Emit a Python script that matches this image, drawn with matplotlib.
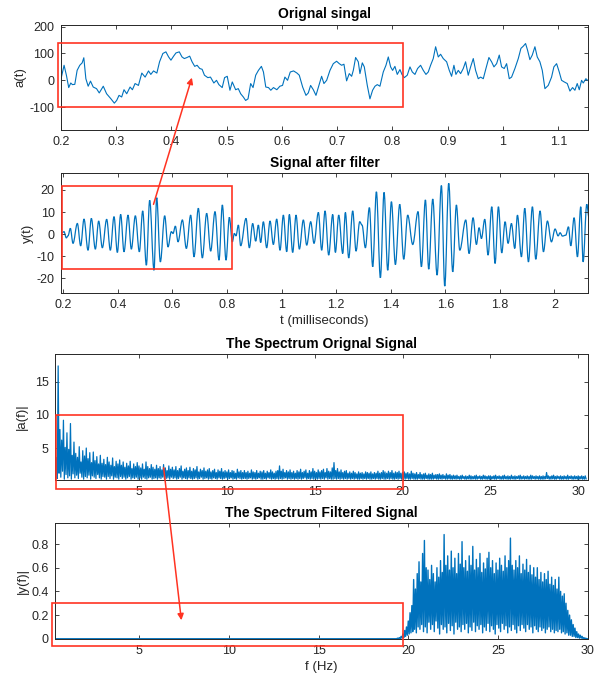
import numpy as np
import matplotlib
matplotlib.use('Agg')
import matplotlib.pyplot as plt
from matplotlib.patches import Rectangle, FancyArrowPatch, PathPatch
from matplotlib.path import Path
from matplotlib.ticker import FuncFormatter

plt.rcParams['font.family'] = ['Liberation Sans', 'DejaVu Sans']

# original signal a(t) (t in ms)
sig_t = [0.2000, 0.2061, 0.2103, 0.2145, 0.2182, 0.2212, 0.2255, 0.2297, 0.2345, 0.2388,
         0.2418, 0.2455, 0.2497, 0.2539, 0.2588, 0.2648, 0.2697, 0.2770, 0.2830, 0.2909,
         0.2970, 0.3012, 0.3055, 0.3103, 0.3145, 0.3194, 0.3255, 0.3297, 0.3345, 0.3406,
         0.3467, 0.3527, 0.3588, 0.3630, 0.3679, 0.3739, 0.3788, 0.3848, 0.3903, 0.3952,
         0.3994, 0.4042, 0.4085, 0.4145, 0.4194, 0.4236, 0.4285, 0.4333, 0.4376, 0.4424,
         0.4467, 0.4515, 0.4558, 0.4600, 0.4661, 0.4709, 0.4770, 0.4818, 0.4861, 0.4921,
         0.4964, 0.5012, 0.5061, 0.5103, 0.5164, 0.5212, 0.5255, 0.5303, 0.5345, 0.5388,
         0.5436, 0.5479, 0.5527, 0.5576, 0.5630, 0.5667, 0.5709, 0.5758, 0.5800, 0.5848,
         0.5909, 0.5964, 0.6012, 0.6055, 0.6103, 0.6152, 0.6212, 0.6273,
         0.6315, 0.6376, 0.6436, 0.6478, 0.6520, 0.6569, 0.6617, 0.6659, 0.6719, 0.6761,
         0.6810, 0.6870, 0.6930, 0.6990, 0.7039, 0.7081, 0.7123, 0.7171, 0.7219, 0.7262,
         0.7292, 0.7334, 0.7382, 0.7412, 0.7455, 0.7491, 0.7545, 0.7593, 0.7641, 0.7684,
         0.7726, 0.7774, 0.7834, 0.7883, 0.7925, 0.7967, 0.8003, 0.8045, 0.8087, 0.8136,
         0.8172, 0.8214, 0.8268, 0.8317, 0.8359, 0.8407, 0.8455, 0.8509, 0.8558, 0.8606,
         0.8648, 0.8690, 0.8738, 0.8781, 0.8829, 0.8871, 0.8919, 0.8980, 0.9028, 0.9070,
         0.9112, 0.9148, 0.9191, 0.9233, 0.9281, 0.9323, 0.9371, 0.9414, 0.9462, 0.9504,
         0.9552, 0.9595, 0.9643, 0.9691, 0.9745, 0.9793, 0.9836, 0.9884, 0.9932, 0.9974,
         1.0022, 1.0065, 1.0113, 1.0155, 1.0215, 1.0276, 1.0324, 1.0366, 1.0408, 1.0444,
         1.0486, 1.0529, 1.0577, 1.0619, 1.0667, 1.0710, 1.0758, 1.0818, 1.0878, 1.0920,
         1.0969, 1.1017, 1.1059, 1.1107, 1.1162, 1.1210, 1.1258, 1.1300, 1.1342, 1.1379,
         1.1421, 1.1451, 1.1499, 1.1529]
sig_a = [0, 56, 19, -27, -10, -16, -15, 37, 56, 65,
         84, 6, -22, -3, -25, -31, -47, -22, -50, -69,
         -85, -75, -56, -62, -35, -50, -25, -35, -12, -19,
         27, 12, 35, 22, 35, 27, 69, 100, 106, 87,
         75, 90, 102, 106, 87, 81, 85, 90, 69, 52,
         56, 44, 41, 19, 10, 12, -10, 0, -16, -27,
         10, 15, -37, -6, -35, -31, -50, -62, -75, -69,
         -12, -27, 19, 37, 52, 31, -25, -27, -37, -27,
         -35, -22, -19, 12, 0, 31, 35, 27,
         19, -25, -56, -47, -19, -35, -56, -27, 15, -12,
         0, 37, 62, 71, 62, 56, 60, -2, 25, 15,
         37, 85, 69, 25, 65, 50, -19, -69, -37, -22,
         -16, -22, 31, 56, 87, 50, 37, 52, 22, 40,
         22, 10, 19, 50, 31, 22, 44, 56, 37, 22,
         31, 56, 81, 125, 87, 97, 81, 69, 37, 15,
         56, 22, 37, 25, 44, 69, 19, 50, 81, 37,
         6, 12, 6, 44, 85, 69, 50, 62, 94, 50,
         44, 62, 6, 12, 44, 81, 119, 127, 137, 112,
         77, 94, 125, 87, 69, 37, -31, -19, 12, 50,
         62, 31, 0, -6, -12, -40, -27, -37, -12, -35,
         0, -10, 6, 0]

# filtered signal y(t): turning points
flt_t = [0.1953, 0.2026, 0.2111, 0.2173, 0.2258, 0.2356, 0.2515, 0.2637, 0.2759, 0.2906,
         0.3028, 0.3175, 0.3297, 0.3431, 0.3590, 0.3724, 0.3859, 0.3981, 0.4103, 0.4225,
         0.4372, 0.4494, 0.4641, 0.4787, 0.4910, 0.5044, 0.5166, 0.5325, 0.5423, 0.5557,
         0.5716, 0.5838, 0.5960, 0.6022, 0.6107, 0.6205, 0.6364, 0.6510, 0.6669,
         0.6791, 0.6949, 0.7096, 0.7255, 0.7402, 0.7560, 0.7707, 0.7829, 0.7964, 0.8086,
         0.8196, 0.8269, 0.8330, 0.8416, 0.8501, 0.8697, 0.8819, 0.8941, 0.9051, 0.9149,
         0.9234, 0.9332, 0.9454, 0.9577, 0.9699, 0.9821, 0.9943, 1.0065, 1.0188, 1.0285,
         1.0407, 1.0530, 1.0652, 1.0798, 1.0921, 1.1067, 1.1189, 1.1348, 1.1470, 1.1593,
         1.1727, 1.1874, 1.1972, 1.2094, 1.2241, 1.2338, 1.2461, 1.2607, 1.2729, 1.2864,
         1.2949, 1.3071, 1.3218, 1.3340, 1.3475, 1.3621, 1.3756, 1.3890, 1.4025, 1.4171,
         1.4330, 1.4477, 1.4623, 1.4807, 1.5002, 1.5124, 1.5271, 1.5393, 1.5540, 1.5699,
         1.5857, 1.5980, 1.6126, 1.6273, 1.6407,
         1.6530, 1.6750, 1.6872, 1.7018, 1.7141, 1.7238, 1.7324, 1.7446, 1.7568, 1.7703,
         1.7825, 1.7947, 1.8069, 1.8192, 1.8301, 1.8424, 1.8546, 1.8644, 1.8790, 1.8912,
         1.9047, 1.9193, 1.9316, 1.9474, 1.9597, 1.9743, 1.9890, 2.0024, 2.0134, 2.0208,
         2.0293, 2.0415, 2.0513, 2.0599, 2.0721, 2.0843, 2.0965, 2.1051, 2.1185, 2.1271]
flt_y = [0.6, 1.1, -1.7, -0.8, 2.6, -4.2, 4.8, -5.3, 6.8, -7.3,
         7.1, -6.8, 5.9, -6.2, 6.7, -7.3, 7.9, -8.3, 8.9, -8.0,
         8.6, -6.8, 8.3, -8.0, 10.5, -14.1, 15.3, -16.4, 16.5, -12.6,
         8.3, -5.8, 1.1, 0.3, 3.6, -3.5, 6.4, -6.5, 8.6,
         -10.3, 11.7, -10.8, 9.4, -7.7, 10.2, -11.8, 13.2, -11.8, 7.6,
         -3.5, 0.3, -0.8, 4.1, -5.3, 7.1, -6.2, 4.8, -3.2, 4.1,
         -3.8, 5.6, -6.2, 5.9, -4.7, 6.8, -7.3, 8.6, -8.0, 8.9,
         -8.3, 8.6, -6.8, 6.4, -5.0, 5.6, -4.2, 9.8, -7.3, 10.5,
         -9.5, 8.9, -8.3, 8.6, -8.8, 9.8, -10.8, 10.5, -7.7, 5.6,
         4.1, -6.2, 12.0, -14.8, 19.2, -19.8, 18.9, -16.4, 14.7, -13.8,
         13.5, -11.4, 8.6, -4.7, 10.2, -14.8, 15.5, -15.9, 15.9, -18.6,
         22.0, -23.6, 23.0, -17.1, 13.2,
         -7.3, 6.4, -8.8, 7.4, -4.7, 2.9, -2.0, 6.7, -9.5, 12.4,
         -13.3, 12.4, -8.5, 5.6, -4.2, 4.8, -6.5, 8.6, -10.3, 11.7,
         -12.6, 12.4, -11.4, 10.5, -8.0, 5.9, -3.5, 2.3, -0.8, 0.6,
         -0.9, -0.5, 3.3, -5.3, 7.4, -10.3, 12.4, -12.6, 13.5, 7.1]

# spectrum of the original signal: upper / lower value in each 0.1 Hz bin from 0.3 Hz
spec_a_f0 = 0.3
spec_a_hi = [3.5, 17.4, 7.8, 6.2, 9.2, 5.1, 7.3,
             4.8, 8.7, 3.9, 5.9, 4.2, 3.6, 5.2, 2.9, 4.6, 3.8,
             5.0, 3.4, 4.3, 2.8, 4.4, 3.1, 3.7, 2.6, 3.9, 2.7,
             3.3, 2.5, 3.6, 2.9, 2.4, 3.5, 2.2, 3.0, 2.6, 3.2,
             2.4, 2.9, 2.1, 2.7, 2.3, 3.0, 1.9, 2.6, 2.2, 2.8,
             2.3, 2.0, 2.6, 1.8, 2.9, 2.2, 1.9, 2.5, 2.1, 1.8,
             2.4, 1.9, 2.2, 1.7, 2.5, 2.0, 1.6, 2.3, 1.8, 2.1,
             1.7, 2.2, 1.6, 1.9, 2.3, 1.5, 1.8, 2.0, 1.6, 2.1,
             1.5, 1.9, 1.7, 2.2, 1.4, 1.8, 1.6, 2.0, 1.5, 1.7,
             1.9, 1.4, 1.6, 1.8, 1.3, 1.7, 1.5, 1.9, 1.4, 1.6,
             1.4, 1.7, 1.3, 1.6, 1.5, 1.2, 1.8, 1.4, 1.6, 1.3,
             1.6, 1.3, 1.5, 1.2, 1.7, 1.4, 1.3, 1.6, 1.2, 1.5,
             1.4, 1.6, 1.2, 1.5, 1.3, 1.7, 1.4, 1.2, 1.5, 1.6,
             2.3, 1.5, 1.8, 1.3, 1.6, 1.4, 1.7, 1.3, 1.5, 1.2,
             1.6, 1.4, 1.8, 1.3, 1.5, 1.7, 1.2, 1.6, 1.4, 1.9,
             1.5, 1.3, 1.7, 1.4, 1.6, 1.8, 1.3, 1.9, 1.5, 1.4,
             2.0, 2.8, 1.6, 1.9, 1.4, 1.7, 1.3, 1.5, 1.6, 1.2,
             1.4, 1.2, 1.5, 1.3, 1.1, 1.4, 1.2, 1.3, 1.1, 1.4,
             1.3, 1.2, 1.4, 1.1, 1.3, 1.2, 1.5, 1.2, 1.3, 1.6,
             1.4, 1.2, 1.5, 1.3, 1.6, 1.2, 1.4, 1.3, 1.5, 1.2,
             1.3, 1.4, 1.2, 1.3, 1.1, 1.5, 1.2, 1.1, 1.3, 1.0,
             1.3, 1.0, 1.1, 1.2, 0.9, 1.1, 1.0, 1.2, 0.9, 1.0,
             1.0, 1.1, 0.9, 1.0, 0.8, 1.1, 0.9, 1.0, 0.8, 0.9,
             0.8, 0.9, 0.7, 0.8, 0.9, 0.7, 0.8, 0.7, 0.9, 0.8,
             0.7, 0.8, 0.9, 0.7, 0.8, 0.7, 0.9, 0.8, 0.7, 0.8,
             0.8, 0.7, 0.8, 0.9, 0.7, 0.8, 0.7, 0.8, 0.9, 0.7,
             0.8, 0.7, 0.9, 0.7, 0.8, 0.7, 0.8, 0.9, 0.7, 0.8,
             0.7, 0.8, 0.7, 0.9, 0.8, 0.7, 0.8, 0.7, 0.8, 0.7,
             0.8, 0.7, 1.3, 0.8, 0.7, 0.8, 0.9, 0.7, 0.8, 0.7,
             0.8, 0.7, 0.8, 0.7, 0.9, 0.7, 0.8, 0.7, 0.8, 0.7,
             0.8, 0.7, 0.8, 0.7, 0.8]
spec_a_lo = [0.4, 1.2, 0.6, 1.5, 0.3, 1.0, 0.5,
             0.8, 0.3, 1.1, 0.5, 0.9, 0.4, 1.2, 0.6, 0.3, 0.7,
             0.5, 0.9, 0.3, 0.8, 0.6, 0.4, 1.0, 0.5, 0.3, 0.7,
             0.6, 0.3, 0.7, 0.4, 0.8, 0.3, 0.6, 0.5, 0.3, 0.7,
             0.4, 0.6, 0.3, 0.5, 0.7, 0.3, 0.5, 0.4, 0.6, 0.3,
             0.5, 0.3, 0.6, 0.4, 0.3, 0.5, 0.6, 0.3, 0.4, 0.5,
             0.3, 0.5, 0.4, 0.6, 0.3, 0.4, 0.5, 0.3, 0.6, 0.4,
             0.5, 0.3, 0.4, 0.6, 0.3, 0.5, 0.4, 0.3, 0.5, 0.4,
             0.3, 0.4, 0.5, 0.3, 0.4, 0.6, 0.3, 0.4, 0.5, 0.3,
             0.4, 0.3, 0.5, 0.4, 0.3, 0.5, 0.4, 0.3, 0.4, 0.5,
             0.3, 0.4, 0.5, 0.3, 0.4, 0.3, 0.5, 0.4, 0.3, 0.4,
             0.4, 0.3, 0.4, 0.5, 0.3, 0.4, 0.3, 0.4, 0.5, 0.3,
             0.3, 0.4, 0.3, 0.5, 0.4, 0.3, 0.4, 0.3, 0.4, 0.3,
             0.4, 0.3, 0.4, 0.5, 0.3, 0.4, 0.3, 0.4, 0.3, 0.4,
             0.3, 0.4, 0.3, 0.4, 0.5, 0.3, 0.4, 0.3, 0.4, 0.3,
             0.4, 0.3, 0.4, 0.3, 0.4, 0.3, 0.5, 0.3, 0.4, 0.3,
             0.3, 0.4, 0.3, 0.4, 0.3, 0.4, 0.3, 0.4, 0.3, 0.4,
             0.3, 0.4, 0.3, 0.4, 0.3, 0.3, 0.4, 0.3, 0.4, 0.3,
             0.4, 0.3, 0.3, 0.4, 0.3, 0.4, 0.3, 0.3, 0.4, 0.3,
             0.3, 0.4, 0.3, 0.4, 0.3, 0.3, 0.4, 0.3, 0.4, 0.3,
             0.3, 0.3, 0.4, 0.3, 0.3, 0.4, 0.3, 0.3, 0.3, 0.4,
             0.3, 0.3, 0.3, 0.4, 0.3, 0.3, 0.3, 0.3, 0.4, 0.3,
             0.3, 0.35, 0.3, 0.4, 0.3, 0.3, 0.35, 0.3, 0.3, 0.35,
             0.3, 0.35, 0.3, 0.3, 0.4, 0.3, 0.3, 0.35, 0.3, 0.3,
             0.35, 0.3, 0.3, 0.4, 0.3, 0.3, 0.35, 0.3, 0.3, 0.3,
             0.3, 0.35, 0.3, 0.3, 0.4, 0.3, 0.3, 0.3, 0.35, 0.3,
             0.3, 0.3, 0.35, 0.3, 0.3, 0.4, 0.3, 0.3, 0.35, 0.3,
             0.35, 0.3, 0.3, 0.3, 0.4, 0.3, 0.35, 0.3, 0.3, 0.3,
             0.3, 0.35, 0.4, 0.3, 0.3, 0.35, 0.3, 0.3, 0.4, 0.3,
             0.3, 0.3, 0.35, 0.3, 0.3, 0.4, 0.3, 0.3, 0.35, 0.3,
             0.3, 0.35, 0.3, 0.3, 0.35]

# spectrum of the filtered signal: flat stop band, then 0.1 Hz bins from 19.4 Hz
stop_f = [0.3, 19.35]
stop_v = [0.0, 0.0]
spec_y_f0 = 19.4
spec_y_hi = [0.005, 0.01, 0.02, 0.04, 0.07, 0.10,
             0.15, 0.22, 0.28, 0.50, 0.42, 0.55, 0.65, 0.48, 0.72, 0.83,
             0.60, 0.58, 0.50, 0.62, 0.55, 0.48, 0.60, 0.52, 0.66, 0.56,
             0.88, 0.62, 0.70, 0.58, 0.74, 0.60, 0.68, 0.55, 0.72, 0.63,
             0.82, 0.60, 0.66, 0.57, 0.70, 0.62, 0.78, 0.58, 0.67, 0.60,
             0.72, 0.56, 0.64, 0.59, 0.68, 0.73, 0.60, 0.66, 0.55, 0.64,
             0.58, 0.68, 0.62, 0.57, 0.70, 0.60, 0.66, 0.85, 0.62, 0.58,
             0.66, 0.60, 0.70, 0.55, 0.63, 0.58, 0.67, 0.56, 0.62, 0.54,
             0.60, 0.52, 0.60, 0.50, 0.56, 0.48, 0.55, 0.50, 0.57, 0.46,
             0.52, 0.45, 0.50, 0.42, 0.52, 0.40, 0.36, 0.38, 0.30, 0.24,
             0.20, 0.16, 0.12, 0.09, 0.06, 0.04, 0.03, 0.02, 0.01, 0.005,
             0.0]
spec_y_lo = [0.0, 0.0, 0.005, 0.01, 0.02, 0.03,
             0.04, 0.05, 0.06, 0.08, 0.05, 0.10, 0.08, 0.12, 0.06, 0.10,
             0.05, 0.14, 0.08, 0.12, 0.06, 0.15, 0.09, 0.04, 0.12, 0.08,
             0.10, 0.05, 0.13, 0.07, 0.11, 0.04, 0.14, 0.08, 0.10, 0.06,
             0.12, 0.08, 0.13, 0.05, 0.10, 0.07, 0.14, 0.06, 0.11, 0.08,
             0.12, 0.05, 0.10, 0.07, 0.13, 0.06, 0.11, 0.08, 0.04, 0.12,
             0.09, 0.06, 0.13, 0.08, 0.11, 0.05, 0.10, 0.07, 0.12, 0.08,
             0.05, 0.11, 0.07, 0.12, 0.09, 0.06, 0.12, 0.08, 0.10, 0.05,
             0.11, 0.08, 0.06, 0.10, 0.07, 0.09, 0.05, 0.08, 0.10, 0.06,
             0.08, 0.05, 0.07, 0.06, 0.08, 0.05, 0.06, 0.04, 0.05, 0.03,
             0.03, 0.02, 0.02, 0.01, 0.01, 0.005, 0.005, 0.0, 0.0, 0.0,
             0.0]

BLUE = '#0072BD'
RED = '#FF3322'
INK = '#262626'
fmt = FuncFormatter(lambda v, p: '%g' % round(v, 6))


def comb(f0, hi, lo, step=0.1):
    n = min(len(hi), len(lo))
    f = f0 + step * np.arange(n)
    x = np.empty(2 * n)
    y = np.empty(2 * n)
    x[0::2] = f
    x[1::2] = f + step / 2
    y[0::2] = hi[:n]
    y[1::2] = lo[:n]
    return x, y


def smooth_path(t, y, k=0.36):
    # cubic bezier through the turning points, flat at each one
    verts = [(t[0], y[0])]
    codes = [Path.MOVETO]
    for i in range(1, len(t)):
        dt = t[i] - t[i - 1]
        verts += [(t[i - 1] + k * dt, y[i - 1]), (t[i] - k * dt, y[i]), (t[i], y[i])]
        codes += [Path.CURVE4] * 3
    return Path(verts, codes)


def style(ax):
    for s in ax.spines.values():
        s.set_color(INK)
        s.set_linewidth(0.7)
    ax.tick_params(direction='in', top=True, right=True, length=3, width=0.6,
                   colors=INK, labelsize=9, pad=4.5)
    ax.xaxis.set_major_formatter(fmt)
    ax.yaxis.set_major_formatter(fmt)


def box(ax, x0, y0, x1, y1):
    ax.add_patch(Rectangle((x0, y0), x1 - x0, y1 - y0, fill=False, ec=RED,
                           lw=1.2, clip_on=False, zorder=5))


fig = plt.figure(figsize=(5.94, 6.77), dpi=100)
W, H = 594.0, 677.0
TFS, LFS = 10, 9.5


def axes_px(l, t, r, b):
    return fig.add_axes([l / W, 1 - b / H, (r - l) / W, (b - t) / H])


# 1. original signal
ax1 = axes_px(60.7, 25, 588, 130)
ax1.plot(sig_t, sig_a, color=BLUE, lw=0.8)
ax1.set_xlim(0.2, 1.1537)
ax1.set_ylim(-185, 206)
ax1.set_xticks(np.arange(0.2, 1.15, 0.1))
ax1.set_yticks([-100, 0, 100, 200])
ax1.set_ylabel('a(t)', fontsize=LFS, color=INK, labelpad=2)
ax1.set_title('Orignal singal', fontsize=TFS, fontweight='bold', pad=5)
style(ax1)
box(ax1, 0.195, -100, 0.82, 140)

# 2. filtered signal
ax2 = axes_px(61, 173, 588, 293)
ax2.add_patch(PathPatch(smooth_path(flt_t, flt_y), fill=False, ec=BLUE, lw=0.9))
ax2.set_xlim(0.1916, 2.123)
ax2.set_ylim(-26.7, 27.7)
ax2.set_xticks(np.arange(0.2, 2.05, 0.2))
ax2.set_yticks([-20, -10, 0, 10, 20])
ax2.set_ylabel('y(t)', fontsize=LFS, color=INK, labelpad=2)
ax2.set_xlabel('t (milliseconds)', fontsize=LFS, color=INK, labelpad=3)
ax2.set_title('Signal after filter', fontsize=TFS, fontweight='bold', pad=4)
style(ax2)
box(ax2, 0.194, -15.8, 0.82, 21.6)

# 3. spectrum of original
ax3 = axes_px(55, 354, 587.5, 479.5)
xa, ya = comb(spec_a_f0, spec_a_hi, spec_a_lo)
ax3.plot(xa, ya, color=BLUE, lw=0.9)
ax3.set_xlim(0.22, 30.53)
ax3.set_ylim(0.25, 19.2)
ax3.set_xticks([5, 10, 15, 20, 25, 30])
ax3.set_yticks([5, 10, 15])
ax3.set_ylabel('|a(f)|', fontsize=LFS, color=INK, labelpad=5)
ax3.set_title('The Spectrum Orignal Signal', fontsize=TFS, fontweight='bold', pad=4)
style(ax3)
box(ax3, 0.3, -1.2, 20, 10)

# 4. spectrum of filtered
ax4 = axes_px(55, 522.7, 587.5, 639)
xy, yy = comb(spec_y_f0, spec_y_hi, spec_y_lo)
ax4.plot(np.concatenate([stop_f, xy]), np.concatenate([stop_v, yy]), color=BLUE, lw=1.0)
ax4.set_xlim(0.29, 30.0)
ax4.set_ylim(-0.002, 0.98)
ax4.set_xticks([5, 10, 15, 20, 25, 30])
ax4.set_yticks([0, 0.2, 0.4, 0.6, 0.8])
ax4.set_ylabel('|y(f)|', fontsize=LFS, color=INK, labelpad=2)
ax4.set_xlabel('f (Hz)', fontsize=LFS, color=INK, labelpad=3)
ax4.set_title('The Spectrum Filtered Signal', fontsize=TFS, fontweight='bold', pad=4)
style(ax4)
box(ax4, 0.1, -0.06, 19.7, 0.3)

# zoom arrows between panels (figure pixel positions)
for (x0, y0), (x1, y1) in [((152.7, 207), (192.7, 75)), ((163.3, 465), (181.7, 623))]:
    arr = FancyArrowPatch((x0 / W, 1 - y0 / H), (x1 / W, 1 - y1 / H),
                          transform=fig.transFigure, arrowstyle='-|>',
                          mutation_scale=9, color=RED, lw=1.1, zorder=10)
    fig.add_artist(arr)

fig.savefig('out.png', dpi=100)
